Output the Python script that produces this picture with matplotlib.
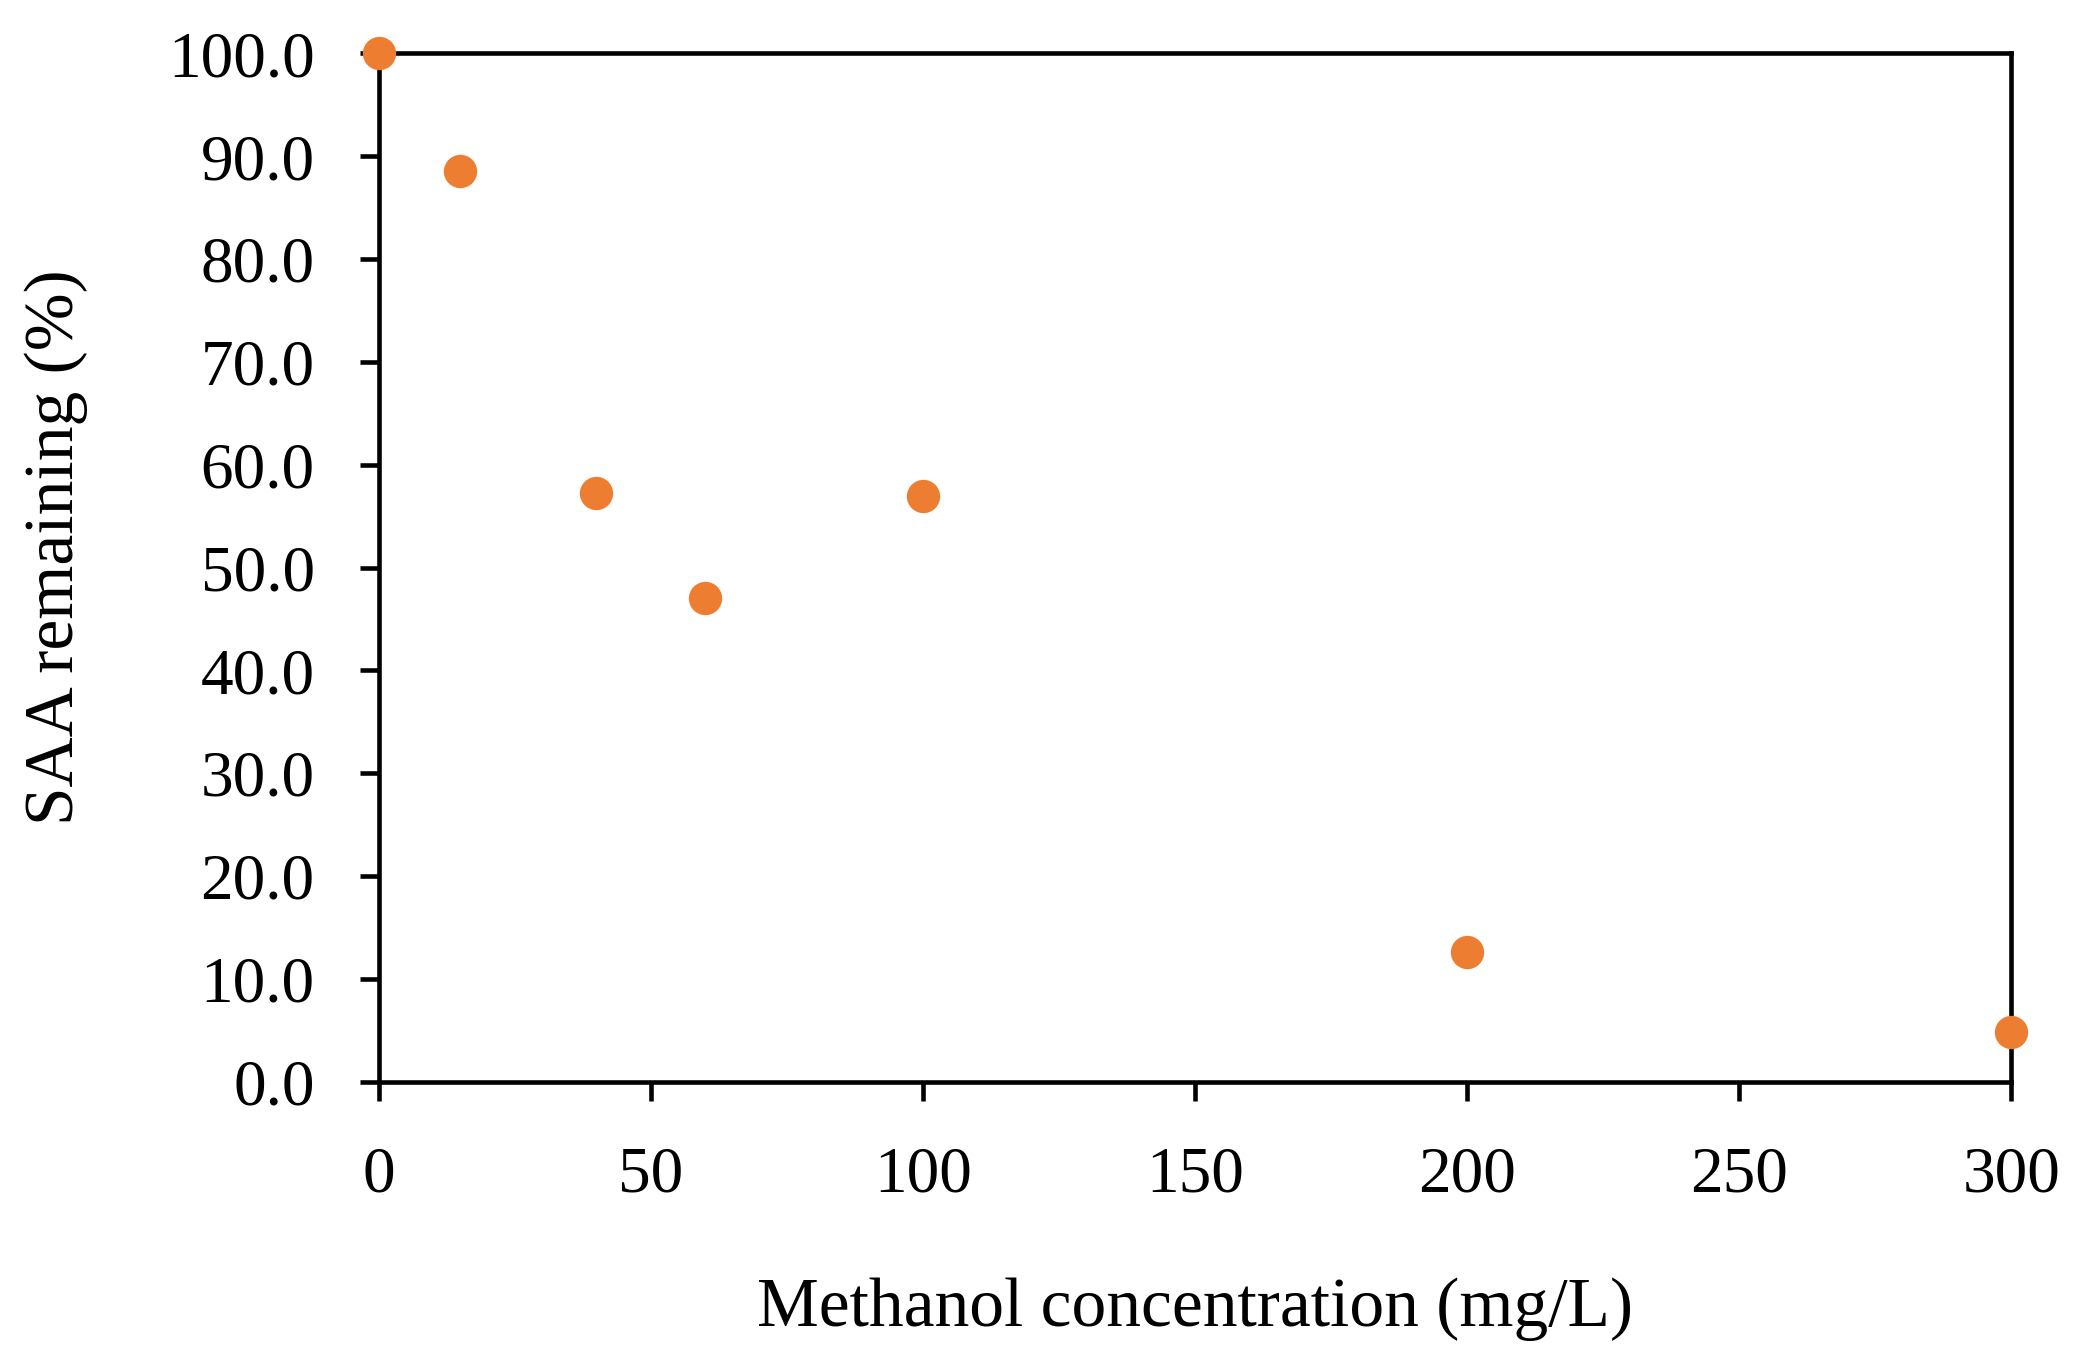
import matplotlib
matplotlib.use("Agg")
import matplotlib.pyplot as plt

# Datos
methanol = [0, 15, 40, 60, 100, 200, 300]
saa_remaining = [100.0, 88.6, 57.3, 47.0, 57.0, 12.6, 4.8]
x_ticks = [0, 50, 100, 150, 200, 250, 300]
y_ticks = [0, 10, 20, 30, 40, 50, 60, 70, 80, 90, 100]

plt.rcParams['font.family'] = ['Liberation Serif', 'DejaVu Serif']

fig = plt.figure(figsize=(20.8, 13.71), dpi=100)
ax = fig.add_axes([0.182, 0.211, 0.785, 0.75])

ax.plot(methanol, saa_remaining, 'o', color='#ED7D31', markersize=24,
        markeredgewidth=0, clip_on=False, zorder=5)

ax.set_xlim(0, 300)
ax.set_ylim(0, 100)
ax.set_xticks(x_ticks)
ax.set_yticks(y_ticks)
ax.set_yticklabels(['%.1f' % v for v in y_ticks])

for s in ax.spines.values():
    s.set_linewidth(3.3)
    s.set_color('black')

ax.tick_params(axis='both', direction='out', length=14, width=3.3,
               labelsize=47, colors='black')
ax.tick_params(axis='x', pad=32)
ax.tick_params(axis='y', pad=32)

ax.set_xlabel('Methanol concentration (mg/L)', fontsize=50, labelpad=52)
ax.set_ylabel('SAA remaining (%)', fontsize=50)
ax.yaxis.set_label_coords(-0.178, 0.52)

fig.savefig('out.png', dpi=100, facecolor='white')
